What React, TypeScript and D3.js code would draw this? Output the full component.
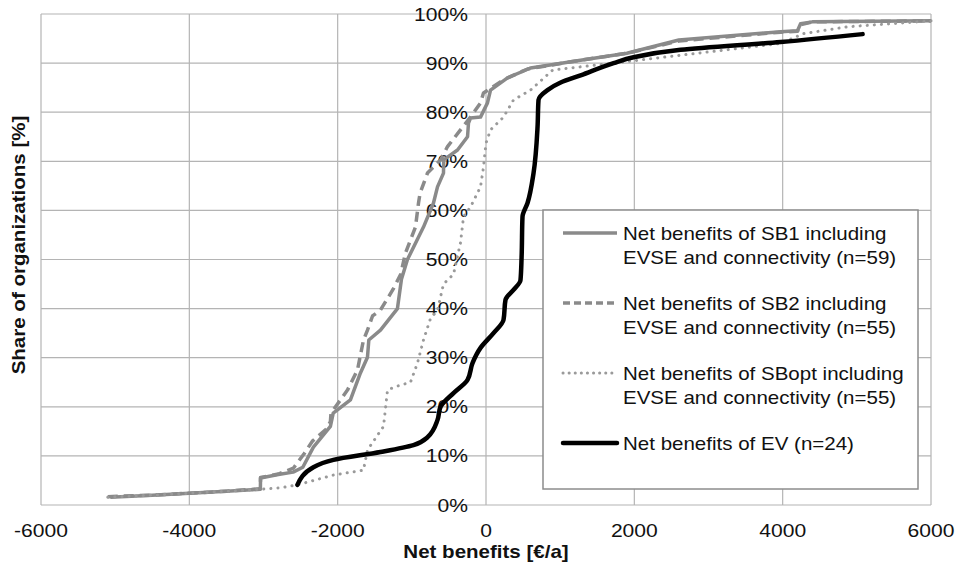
import React from "react";
import * as d3 from "d3";

// x = net benefit [€/a], y = cumulative share [%]
const sb1X = [-5065, -4500, -4000, -3500, -3042, -3040, -2800, -2600, -2470, -2327, -2098, -2060, -1828, -1693, -1598, -1580, -1423, -1194, -1140, -1059, -843, -708, -654, -573, -570, -384, -249, -236, -209, -74, 20, 61, 290, 600, 950, 1275, 1900, 2600, 3972, 4200, 4240, 4400, 6000];
const sb1Y = [1.6, 2.0, 2.4, 2.8, 3.2, 5.5, 6.2, 6.7, 7.7, 11.8, 16, 18.7, 21.4, 26.9, 30.1, 33.6, 35.6, 40, 46, 50, 56.6, 61.5, 64.8, 67.6, 70.3, 72.3, 75, 77.8, 78.8, 79, 81.9, 84.5, 87, 89, 89.8, 90.6, 92, 94.7, 96.4, 96.6, 98, 98.4, 98.6];

const sb2X = [-5100, -4500, -4000, -3500, -3042, -3040, -2800, -2597, -2450, -2341, -2150, -2098, -2090, -1868, -1733, -1652, -1598, -1530, -1423, -1250, -1150, -1086, -951, -910, -889, -789, -611, -519, -344, -209, -74, -34, 236, 560, 1275, 1900, 2600, 3972, 4200, 4240, 4400, 6000];
const sb2Y = [1.7, 2.0, 2.4, 2.8, 3.3, 5.6, 6.3, 7.5, 10.5, 13, 15.5, 17, 18.7, 23.4, 27.5, 33.6, 35.6, 38.5, 39.7, 44, 47, 51.3, 56.6, 61.5, 63.5, 67.6, 70.3, 73, 76.4, 79, 81.9, 83.9, 86.6, 88.8, 90.6, 92, 94.5, 96.3, 96.5, 97.8, 98.4, 98.6];

const sbOptX = [-5100, -4500, -4000, -3500, -3042, -2772, -2543, -2057, -1652, -1598, -1382, -1328, -1240, -1018, -924, -843, -748, -654, -573, -438, -344, -303, -209, -74, -34, 0, 61, 236, 371, 600, 900, 1720, 3972, 4280, 4875, 6000];
const sbOptY = [1.6, 2.0, 2.4, 2.8, 3.2, 3.5, 4.1, 6.1, 7.1, 11.2, 16, 23.4, 24, 25, 28.9, 33.6, 38, 39.7, 45, 47, 53.4, 58.7, 60.7, 64.8, 68.8, 73.7, 76.4, 79, 82.5, 84.5, 88.6, 90, 94, 96, 97.4, 98.6];

const evX = [-2543, -2327, -2057, -1423, -978, -789, -654, -613, -438, -249, -182, -74, 101, 236, 263, 371, 465, 480, 492, 560, 641, 695, 708, 829, 1000, 1275, 1720, 1989, 2623, 3972, 5078];
const evY = [4.1, 7.7, 9.2, 10.8, 12.2, 13.8, 17.3, 20, 22.8, 25.5, 28.9, 32, 35, 37.7, 41.8, 43.8, 45.8, 50.5, 58.7, 61.5, 67.6, 77, 82.5, 84.5, 86, 87.5, 90, 91.2, 92.7, 94.3, 95.9];

const xTicks = [-6000, -4000, -2000, 0, 2000, 4000, 6000];
const yTicks = [0, 10, 20, 30, 40, 50, 60, 70, 80, 90, 100];

const seriesNames = [
  ["Net benefits of SB1 including", "EVSE and connectivity (n=59)"],
  ["Net benefits of SB2 including", "EVSE and connectivity (n=55)"],
  ["Net benefits of SBopt including", "EVSE and connectivity (n=55)"],
  ["Net benefits of EV (n=24)"],
];

const W = 959;
const H = 567;
const font = "'Liberation Sans', Arial, sans-serif";
const grey = "#8a8a8a";
const gridColor = "#b4b4b4";
const SX = 1.14; // glyphs in the original are a little wider

const styles = [
  { stroke: grey, width: 3.5, dash: null as string | null, cap: "butt" },
  { stroke: grey, width: 3.5, dash: "10,6", cap: "butt" },
  { stroke: "#9a9a9a", width: 3, dash: "0.1,7", cap: "round" },
  { stroke: "#000", width: 4.5, dash: null as string | null, cap: "round" },
];

const T = ({ x, y, children, anchor = "start", size = 18.5, bold = false, rotate = 0 }: any) => (
  <text
    transform={`translate(${x},${y}) rotate(${rotate}) scale(${SX},1)`}
    fontSize={size}
    fontWeight={bold ? "bold" : "normal"}
    textAnchor={anchor}
    fill="#111"
  >
    {children}
  </text>
);

export default function App() {
  const x = d3.scaleLinear().domain([-6000, 6000]).range([41, 931]);
  const y = d3.scaleLinear().domain([0, 100]).range([505, 14]);

  const mk = (xs: number[], ys: number[]) => xs.map((v, i) => [v, ys[i]] as [number, number]);
  const series = [mk(sb1X, sb1Y), mk(sb2X, sb2Y), mk(sbOptX, sbOptY), mk(evX, evY)];

  const lin = d3.line<[number, number]>().x((d) => x(d[0])).y((d) => y(d[1]));
  const smooth = d3
    .line<[number, number]>()
    .x((d) => x(d[0]))
    .y((d) => y(d[1]))
    .curve(d3.curveMonotoneY);

  const legendX = 543;
  const legendY = 210;
  const rowTops = [233, 303, 373, 443];

  return (
    <svg
      width={W}
      height={H}
      style={{ position: "absolute", left: 0, top: 0, background: "#fff" }}
      fontFamily={font}
    >
      {/* grid */}
      {xTicks.map((t) => (
        <line key={"gx" + t} x1={x(t)} x2={x(t)} y1={y(0)} y2={y(100)} stroke={gridColor} strokeWidth={1.2} />
      ))}
      {yTicks.map((t) => (
        <line key={"gy" + t} x1={x(-6000)} x2={x(6000)} y1={y(t)} y2={y(t)} stroke={gridColor} strokeWidth={1.2} />
      ))}

      {/* y tick labels next to the x=0 axis */}
      {yTicks.map((t) => (
        <T key={"yl" + t} x={x(0) - 18} y={y(t) + 6.5} anchor="end">
          {t + "%"}
        </T>
      ))}

      {/* x tick labels */}
      {xTicks.map((t) => (
        <T key={"xl" + t} x={x(t)} y={537} anchor="middle">
          {t}
        </T>
      ))}

      {/* curves */}
      {series.map((s, i) => (
        <path
          key={"s" + i}
          d={(i === 3 ? smooth : lin)(s) || ""}
          fill="none"
          stroke={styles[i].stroke}
          strokeWidth={styles[i].width}
          strokeDasharray={styles[i].dash || undefined}
          strokeLinecap={styles[i].cap as any}
          strokeLinejoin="round"
        />
      ))}

      {/* legend */}
      <rect x={legendX} y={legendY} width={375} height={279} fill="#fff" stroke="#8c8c8c" strokeWidth={1.5} />
      {seriesNames.map((lines, i) => (
        <g key={"lg" + i}>
          <line
            x1={563}
            x2={617}
            y1={rowTops[i]}
            y2={rowTops[i]}
            stroke={styles[i].stroke}
            strokeWidth={styles[i].width}
            strokeDasharray={i === 2 ? "0.1,6" : i === 1 ? "7,4" : undefined}
            strokeLinecap={styles[i].cap as any}
          />
          {lines.map((ln, j) => (
            <T key={j} x={623} y={rowTops[i] + 6.5 + j * 24} size={18}>
              {ln}
            </T>
          ))}
        </g>
      ))}

      {/* axis titles */}
      <T x={486} y={558} size={18} bold anchor="middle">
        Net benefits [€/a]
      </T>
      <T x={25} y={245} size={18} bold anchor="middle" rotate={-90}>
        Share of organizations [%]
      </T>
    </svg>
  );
}
